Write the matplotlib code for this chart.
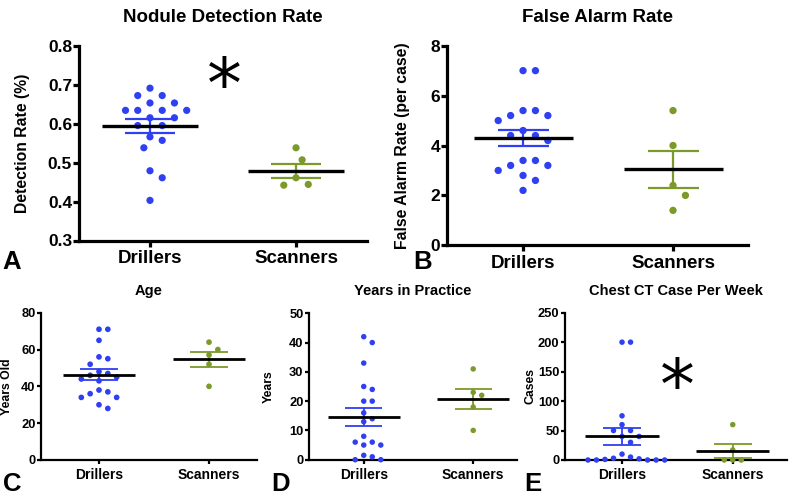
import numpy as np
import matplotlib
matplotlib.use("Agg")
import matplotlib.pyplot as plt

plt.rcParams["font.family"] = ["Liberation Sans", "DejaVu Sans"]
plt.rcParams["font.weight"] = "bold"

# data
groups = ["Drillers", "Scanners"]

det_drillers = [0.653, 0.672, 0.672, 0.691, 0.653, 0.634, 0.634, 0.634, 0.634, 0.615,
                0.615, 0.595, 0.595, 0.566, 0.557, 0.538, 0.479, 0.461, 0.403]
det_scanners = [0.538, 0.507, 0.461, 0.442, 0.444]

fa_drillers = [7.0, 7.0, 5.4, 5.4, 5.2, 5.2, 5.0, 4.6, 4.4, 4.4,
               4.2, 3.4, 3.4, 3.2, 3.2, 3.0, 2.8, 2.6, 2.2]
fa_scanners = [5.4, 4.0, 2.4, 2.0, 1.4]

age_drillers = [71, 71, 65, 56, 55, 52, 48, 47, 46, 45, 44, 43, 38, 37, 36, 34, 34, 30, 28]
age_scanners = [64, 60, 57, 52, 40]

yrs_drillers = [42, 40, 33, 25, 24, 20, 20, 16, 14, 13, 8, 6, 6, 5, 5, 1.5, 1, 0, 0]
yrs_scanners = [31, 23, 22, 18, 10]

ct_drillers = [200, 200, 75, 60, 50, 50, 40, 40, 30, 10, 5, 3, 2, 1, 0, 0, 0, 0, 0]
ct_scanners = [60, 17, 0, 0, 0]

BLUE = "#2f3ff2"
GREEN = "#7c9a2a"

W, H = 789, 496
fig = plt.figure(figsize=(W / 100, H / 100), dpi=100)


def px_axes(l, t, r, b):
    return fig.add_axes([l / W, 1 - b / H, (r - l) / W, (b - t) / H])


def swarm(ax, x0, vals, diam_px, factor):
    # greedy beeswarm in pixel space
    sep = diam_px * factor
    step = sep / 2
    xscale = ax.transData.transform((1, 0))[0] - ax.transData.transform((0, 0))[0]
    ypix = [ax.transData.transform((0, v))[1] for v in vals]
    order = np.argsort(vals)[::-1]
    placed = []
    offs = np.zeros(len(vals))
    cands = [0.0]
    for k in range(1, 40):
        cands += [k * step, -k * step]
    for i in order:
        y = ypix[i]
        for c in cands:
            if all((c - px) ** 2 + (y - py) ** 2 >= sep ** 2 * 0.98 for px, py in placed):
                break
        placed.append((c, y))
        offs[i] = c
    return x0 + offs / xscale


def panel(ax, data, ylim, yticks, ylabel, title, xlim, big, diam_px):
    ax.set_xlim(*xlim)
    ax.set_ylim(*ylim)
    for s in ["top", "right"]:
        ax.spines[s].set_visible(False)
    lw_sp = 2.3 if big else 1.6
    for s in ["left", "bottom"]:
        ax.spines[s].set_linewidth(lw_sp)
    ax.set_yticks(yticks)
    ax.set_xticks([0, 1])
    ax.set_xticklabels(groups)
    if big:
        ax.tick_params(axis="y", length=4, width=2.3, labelsize=12.5, pad=1)
        ax.tick_params(axis="x", length=4, width=2.3, labelsize=13.5, pad=3)
        ax.set_title(title, fontsize=13.5, fontweight="bold", pad=17)
        ax.set_ylabel(ylabel, fontsize=11.3, fontweight="bold")
        factor = 1.7
    else:
        ax.tick_params(axis="y", length=3, width=1.6, labelsize=9.3, pad=1)
        ax.tick_params(axis="x", length=3, width=1.6, labelsize=10, pad=3)
        ax.set_title(title, fontsize=10.5, fontweight="bold", pad=13)
        ax.set_ylabel(ylabel, fontsize=8.8, fontweight="bold")
        factor = 1.55
    s = (diam_px * 72 / 100) ** 2
    for x0, (vals, c) in enumerate(zip(data, [BLUE, GREEN])):
        vals = np.asarray(vals, dtype=float)
        xs = swarm(ax, x0, vals, diam_px, factor)
        ax.scatter(xs, vals, s=s, color=c, edgecolors="none", zorder=3, clip_on=False)
        m = vals.mean()
        sem = vals.std(ddof=1) / np.sqrt(len(vals))
        elw = 1.6 if big else 1.3
        ax.vlines(x0, m - sem, m + sem, color=c, lw=elw, zorder=4)
        ax.hlines([m - sem, m + sem], x0 - 0.17, x0 + 0.17, color=c, lw=elw, zorder=4)
        ax.hlines(m, x0 - 0.33, x0 + 0.33, color="black", lw=2.4 if big else 2.0, zorder=5)


axA = px_axes(79, 45.7, 367, 240.5)
panel(axA, [det_drillers, det_scanners], (0.3, 0.8), np.arange(0.3, 0.81, 0.1),
      "Detection Rate (%)", "Nodule Detection Rate", (-0.486, 1.486), True, 7.2)
axA.set_yticklabels(["0.3", "0.4", "0.5", "0.6", "0.7", "0.8"])
axA.yaxis.set_label_coords(-(79 - 23) / 288, 0.5)
axA.yaxis.label.set_va("center")

axB = px_axes(447, 45.7, 748, 245.3)
panel(axB, [fa_drillers, fa_scanners], (0, 8), [0, 2, 4, 6, 8],
      "False Alarm Rate (per case)", "False Alarm Rate", (-0.507, 1.5), True, 7.3)
axB.yaxis.set_label_coords(-(447 - 403) / 301, 0.5)
axB.yaxis.label.set_va("center")

axC = px_axes(41, 312.7, 257, 460)
panel(axC, [age_drillers, age_scanners], (0, 80), [0, 20, 40, 60, 80],
      "Years Old", "Age", (-0.527, 1.436), False, 5.7)
axC.yaxis.set_label_coords(-(41 - 7) / 216, 0.5)
axC.yaxis.label.set_va("center")

axD = px_axes(309, 313.3, 517, 459.7)
panel(axD, [yrs_drillers, yrs_scanners], (0, 50), [0, 10, 20, 30, 40, 50],
      "Years", "Years in Practice", (-0.5, 1.4), False, 5.5)
axD.yaxis.set_label_coords(-(309 - 269) / 208, 0.5)
axD.yaxis.label.set_va("center")

axE = px_axes(565, 312.7, 787, 460)
panel(axE, [ct_drillers, ct_scanners], (0, 250), [0, 50, 100, 150, 200, 250],
      "Cases", "Chest CT Case Per Week", (-0.515, 1.49), False, 5.5)
axE.yaxis.set_label_coords(-(565 - 530) / 222, 0.5)
axE.yaxis.label.set_va("center")

# significance stars
axA.text(0.51, 0.69, "*", fontsize=50, ha="center", va="center",
         fontweight="normal", family="DejaVu Sans")
axE.text(0.50, 120, "*", fontsize=50, ha="center", va="center",
         fontweight="normal", family="DejaVu Sans")

# panel letters
for lab, x, y in [("A", 12, 262), ("B", 423, 262), ("C", 12, 484), ("D", 281, 484), ("E", 533, 484)]:
    fig.text(x / W, 1 - y / H, lab, fontsize=18.5, fontweight="bold", ha="center", va="center")

fig.savefig("out.png", dpi=100)
